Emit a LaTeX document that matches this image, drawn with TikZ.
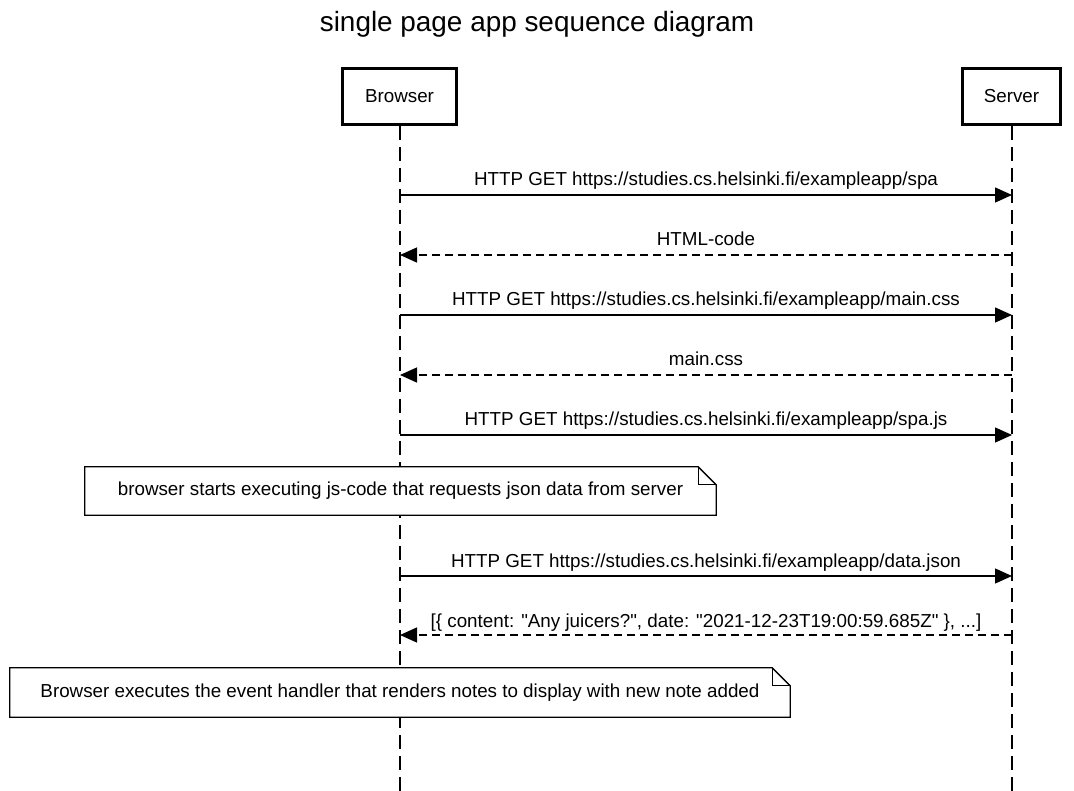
\documentclass[tikz,border=0pt]{standalone}
\usepackage{fontspec}
\setmainfont{Liberation Sans}[Ligatures=TeXOff]
\usetikzlibrary{arrows.meta}
\begin{document}
\begin{tikzpicture}[x=1pt,y=-1pt,
  txt/.style={font=\fontsize{18.8}{22}\selectfont},
  actor/.style={draw,line width=3pt,inner sep=0pt,minimum height=56pt,txt},
  life/.style={line width=1.4pt,dash pattern=on 14pt off 7pt},
  msg/.style={line width=1.3pt,-{Triangle[length=17pt,width=15pt]}},
  reply/.style={msg,dash pattern=on 8pt off 5pt},
  lbl/.style={txt,anchor=base,inner sep=0pt},
  notetext/.style={txt,inner sep=0pt,minimum height=48pt},
  noteline/.style={line width=1.3pt,fill=white,line join=miter}
]
\useasboundingbox[fill=white] (0,0) rectangle (1074,791);

\node[font=\fontsize{27.9}{33}\selectfont,anchor=base,inner sep=0pt] (title) at (537,32) {single page app sequence diagram};

\node[actor,minimum width=114pt] (B) at (399.5,96.5) {Browser};
\node[actor,minimum width=98pt] (S) at (1011.5,96.5) {Server};

\coordinate (Bend) at (400,791);
\coordinate (Send) at (1012,791);
\draw[life] (B.south -| Bend) -- (Bend);
\draw[life] (S.south -| Send) -- (Send);

% message anchor points
\foreach \i/\y in {1/195,2/255,3/315,4/375,5/435,6/576,7/635}{
  \coordinate (b\i) at (400,\y);
  \coordinate (s\i) at (1012,\y);
}

\draw[msg] (b1) -- (s1);
\node[lbl] (l1) at (706,186) {HTTP GET https://studies.cs.helsinki.fi/exampleapp/spa};
\draw[reply] (s2) -- (b2);
\node[lbl] (l2) at (706,246) {HTML-code};
\draw[msg] (b3) -- (s3);
\node[lbl] (l3) at (706,306) {HTTP GET https://studies.cs.helsinki.fi/exampleapp/main.css};
\draw[reply] (s4) -- (b4);
\node[lbl] (l4) at (706,366) {main.css};
\draw[msg] (b5) -- (s5);
\node[lbl] (l5) at (706,426) {HTTP GET https://studies.cs.helsinki.fi/exampleapp/spa.js};
\draw[msg] (b6) -- (s6);
\node[lbl] (l6) at (706,567) {HTTP GET https://studies.cs.helsinki.fi/exampleapp/data.json};
\draw[reply] (s7) -- (b7);
\node[lbl] (l7) at (706,627) {[\{ content: "Any juicers?", date: "2021-12-23T19:00:59.685Z" \}, ...]};

% notes
\node[notetext,minimum width=631pt] (n1) at (400.5,491) {};
\draw[noteline] (n1.north west) -- ([xshift=-18pt]n1.north east) -- ([yshift=-18pt]n1.north east) -- (n1.south east) -- (n1.south west) -- cycle;
\draw[line width=1.3pt] ([xshift=-18pt]n1.north east) -- ([xshift=-18pt,yshift=-18pt]n1.north east) -- ([yshift=-18pt]n1.north east);
\node[txt,inner sep=0pt] (n1t) at (n1.center) {browser starts executing js-code that requests json data from server};

\node[notetext,minimum width=780pt,minimum height=49pt] (n2) at (400,692.5) {};
\draw[noteline] (n2.north west) -- ([xshift=-18pt]n2.north east) -- ([yshift=-18pt]n2.north east) -- (n2.south east) -- (n2.south west) -- cycle;
\draw[line width=1.3pt] ([xshift=-18pt]n2.north east) -- ([xshift=-18pt,yshift=-18pt]n2.north east) -- ([yshift=-18pt]n2.north east);
\node[txt,inner sep=0pt] (n2t) at (n2.center) {Browser executes the event handler that renders notes to display with new note added};
\end{tikzpicture}
\end{document}
